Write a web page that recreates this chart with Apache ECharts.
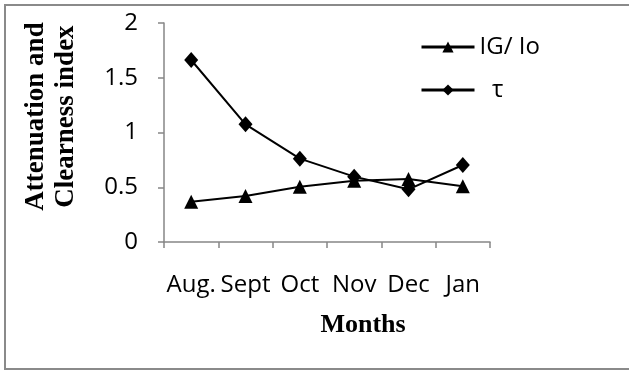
<!DOCTYPE html>
<html>
<head>
<meta charset="utf-8">
<style>
  html, body { margin: 0; padding: 0; background: #fff; }
  #chart { width: 629px; height: 371px; }
</style>
<script src="https://cdn.jsdelivr.net/npm/echarts@6/dist/echarts.min.js"></script>
</head>
<body>
<div id="chart"></div>
<script>
// Monthly clearness index and atmospheric attenuation
const months = ['Aug.', 'Sept', 'Oct', 'Nov', 'Dec', 'Jan'];
const clearness = [0.368, 0.42, 0.505, 0.56, 0.575, 0.51];   // IG/ Io
const attenuation = [1.662, 1.075, 0.761, 0.597, 0.481, 0.703]; // τ
const yTicks = { min: 0, max: 2, step: 0.5 };

const axisGrey = '#868686';
const sans = '"Open Sans", sans-serif';
const serif = '"Liberation Serif", "Times New Roman", serif';

const chart = echarts.init(document.getElementById('chart'), null, { renderer: 'canvas' });

chart.setOption({
  animation: false,
  backgroundColor: '#fff',
  grid: { left: 164, right: 139, top: 23, bottom: 129 },
  graphic: [{
    type: 'rect',
    shape: { x: 5, y: 5, width: 640, height: 364 },
    style: { fill: 'none', stroke: '#8a8a8a', lineWidth: 2 },
    silent: true
  }],
  legend: {
    orient: 'vertical',
    left: 420,
    top: 35,
    padding: 0,
    itemWidth: 53,
    itemHeight: 14,
    itemGap: 19,
    lineStyle: { width: 3, color: '#000' },
    textStyle: { fontFamily: sans, fontSize: 24, color: '#000', lineHeight: 24 },
    formatter: name => name === 'τ' ? '  τ' : name,
    data: ['IG/ Io', 'τ']
  },
  xAxis: {
    type: 'category',
    data: months,
    boundaryGap: true,
    axisLine: { lineStyle: { color: axisGrey, width: 1.5 } },
    axisTick: { show: true, length: 6, alignWithLabel: false, lineStyle: { color: axisGrey, width: 1.5 } },
    axisLabel: { margin: 31, fontFamily: sans, fontSize: 24, color: '#000', interval: 0 },
    name: 'Months',
    nameLocation: 'middle',
    nameGap: 70,
    nameTextStyle: { fontFamily: serif, fontWeight: 'bold', fontSize: 26, color: '#000', padding: [0, 0, 0, 72] }
  },
  yAxis: {
    type: 'value',
    min: yTicks.min,
    max: yTicks.max,
    interval: yTicks.step,
    splitLine: { show: false },
    axisLine: { show: true, lineStyle: { color: axisGrey, width: 1.5 } },
    axisTick: { show: true, length: 6, lineStyle: { color: axisGrey, width: 1.5 } },
    axisLabel: { margin: 26, fontFamily: sans, fontSize: 24, color: '#000' },
    name: 'Attenuation and\nClearness index',
    nameLocation: 'middle',
    nameRotate: 90,
    nameGap: 83,
    nameTextStyle: { fontFamily: serif, fontWeight: 'bold', fontSize: 27, color: '#000', lineHeight: 30, padding: [0, 0, 0, 32] }
  },
  series: [
    {
      name: 'IG/ Io',
      type: 'line',
      data: clearness,
      symbol: 'triangle',
      symbolSize: 14,
      lineStyle: { color: '#000', width: 2 },
      itemStyle: { color: '#000' }
    },
    {
      name: 'τ',
      type: 'line',
      data: attenuation,
      symbol: 'diamond',
      symbolSize: [14, 16],
      lineStyle: { color: '#000', width: 2 },
      itemStyle: { color: '#000' }
    }
  ]
});
</script>
</body>
</html>
